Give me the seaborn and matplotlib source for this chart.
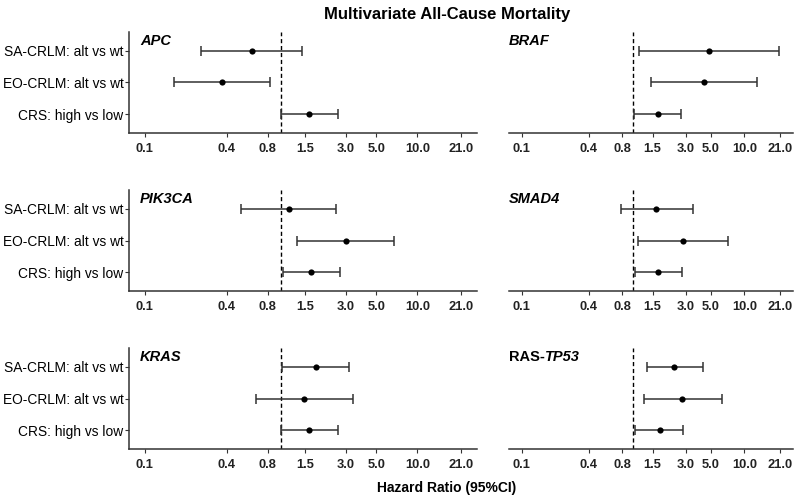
import numpy as np
import pandas as pd
import matplotlib
matplotlib.use("Agg")
import matplotlib.pyplot as plt
import seaborn as sns

sns.set_theme(style="white")
plt.rcParams['font.family'] = ['Liberation Sans', 'DejaVu Sans']
plt.rcParams['text.color'] = 'black'

# data
comparisons = ['SA-CRLM: alt vs wt', 'EO-CRLM: alt vs wt', 'CRS: high vs low']
genes = ['APC', 'BRAF', 'PIK3CA', 'SMAD4', 'KRAS', 'RAS-TP53']

hr = {
    'APC':      [0.61, 0.37, 1.60],
    'BRAF':     [4.84, 4.36, 1.66],
    'PIK3CA':   [1.15, 3.01, 1.66],
    'SMAD4':    [1.62, 2.84, 1.67],
    'KRAS':     [1.80, 1.48, 1.60],
    'RAS-TP53': [2.34, 2.75, 1.73],
}
ci_low = {
    'APC':      [0.257, 0.165, 1.00],
    'BRAF':     [1.14, 1.44, 1.02],
    'PIK3CA':   [0.51, 1.32, 1.04],
    'SMAD4':    [0.785, 1.11, 1.04],
    'KRAS':     [1.01, 0.655, 1.00],
    'RAS-TP53': [1.33, 1.25, 1.04],
}
ci_high = {
    'APC':      [1.42, 0.835, 2.60],
    'BRAF':     [20.7, 12.9, 2.71],
    'PIK3CA':   [2.55, 6.73, 2.70],
    'SMAD4':    [3.45, 7.2, 2.74],
    'KRAS':     [3.18, 3.35, 2.60],
    'RAS-TP53': [4.22, 6.26, 2.80],
}
xticks = [0.1, 0.4, 0.8, 1.5, 3.0, 5.0, 10.0, 21.0]
xtick_labels = ['0.1', '0.4', '0.8', '1.5', '3.0', '5.0', '10.0', '21.0']

rows = []
for g in genes:
    for i, c in enumerate(comparisons):
        rows.append({'gene': g, 'comparison': c, 'pos': i,
                     'hr': hr[g][i], 'lo': ci_low[g][i], 'hi': ci_high[g][i]})
df = pd.DataFrame(rows)

fig = plt.figure(figsize=(8, 4.99), dpi=100)

lefts = [129 / 800, 509 / 800]
widths = [348 / 800, 284 / 800]
bottoms = [1 - 133 / 499, 1 - 291 / 499, 1 - 449 / 499]
height = 101 / 499

# log-scale limits with ggplot-like 5% expansion
lo_lim, hi_lim = np.log10(0.1), np.log10(21.0)
pad = 0.05 * (hi_lim - lo_lim)
xlim = (10 ** (lo_lim - pad), 10 ** (hi_lim + pad))

for k, g in enumerate(genes):
    r, c = divmod(k, 2)
    ax = fig.add_axes([lefts[c], bottoms[r], widths[c], height])
    d = df[df.gene == g]
    ax.errorbar(d['hr'], d['pos'],
                xerr=[d['hr'] - d['lo'], d['hi'] - d['hr']],
                fmt='none', ecolor='#333333', elinewidth=1.1,
                capsize=3.5, capthick=1.1, zorder=2)
    sns.scatterplot(data=d, x='hr', y='pos', ax=ax, color='black',
                    s=20, edgecolor='black', linewidth=0, zorder=3, legend=False)
    ax.axvline(1, color='black', linestyle=(0, (3, 2)), linewidth=1.0, zorder=1)
    ax.set_xscale('log')
    ax.set_xlim(*xlim)
    ax.set_ylim(2.6, -0.6)
    ax.set_xticks(xticks)
    ax.set_xticklabels(xtick_labels, fontsize=9.3, fontweight='bold', color='#222222')
    ax.xaxis.set_minor_locator(matplotlib.ticker.NullLocator())
    ax.set_xlabel('')
    ax.set_ylabel('')
    ax.tick_params(axis='x', length=3, width=0.8, color='#333333', pad=4, bottom=True)
    for s in ['top', 'right']:
        ax.spines[s].set_visible(False)
    ax.spines['bottom'].set_color('#333333')
    ax.spines['bottom'].set_linewidth(1.1)
    if c == 0:
        ax.set_yticks([0, 1, 2])
        ax.set_yticklabels(comparisons, fontsize=9.9, color='black')
        ax.tick_params(axis='y', length=3, width=0.8, color='#333333', pad=1, left=True)
        ax.spines['left'].set_color('#333333')
        ax.spines['left'].set_linewidth(1.1)
        lx = 11 / 800
    else:
        ax.set_yticks([])
        ax.spines['left'].set_visible(False)
        lx = 0
    # panel label
    fx = lefts[c] + lx
    fy = bottoms[r] + height - 2 / 499
    if g == 'RAS-TP53':
        t = fig.text(fx, fy, 'RAS-', fontsize=10.5, fontweight='bold', va='top', ha='left')
        fig.canvas.draw()
        bb = t.get_window_extent()
        fig.text(bb.x1 / fig.bbox.width, fy, 'TP53', fontsize=10.5, fontweight='bold',
                 style='italic', va='top', ha='left')
    else:
        fig.text(fx, fy, g, fontsize=10.5, fontweight='bold', style='italic',
                 va='top', ha='left')

fig.text(447 / 800, 1 - 14 / 499, 'Multivariate All-Cause Mortality', fontsize=12,
         fontweight='bold', ha='center', va='center')
fig.text(447 / 800, 1 - 488 / 499, 'Hazard Ratio (95%CI)', fontsize=10,
         fontweight='bold', ha='center', va='center')

fig.savefig('out.png', dpi=100)
